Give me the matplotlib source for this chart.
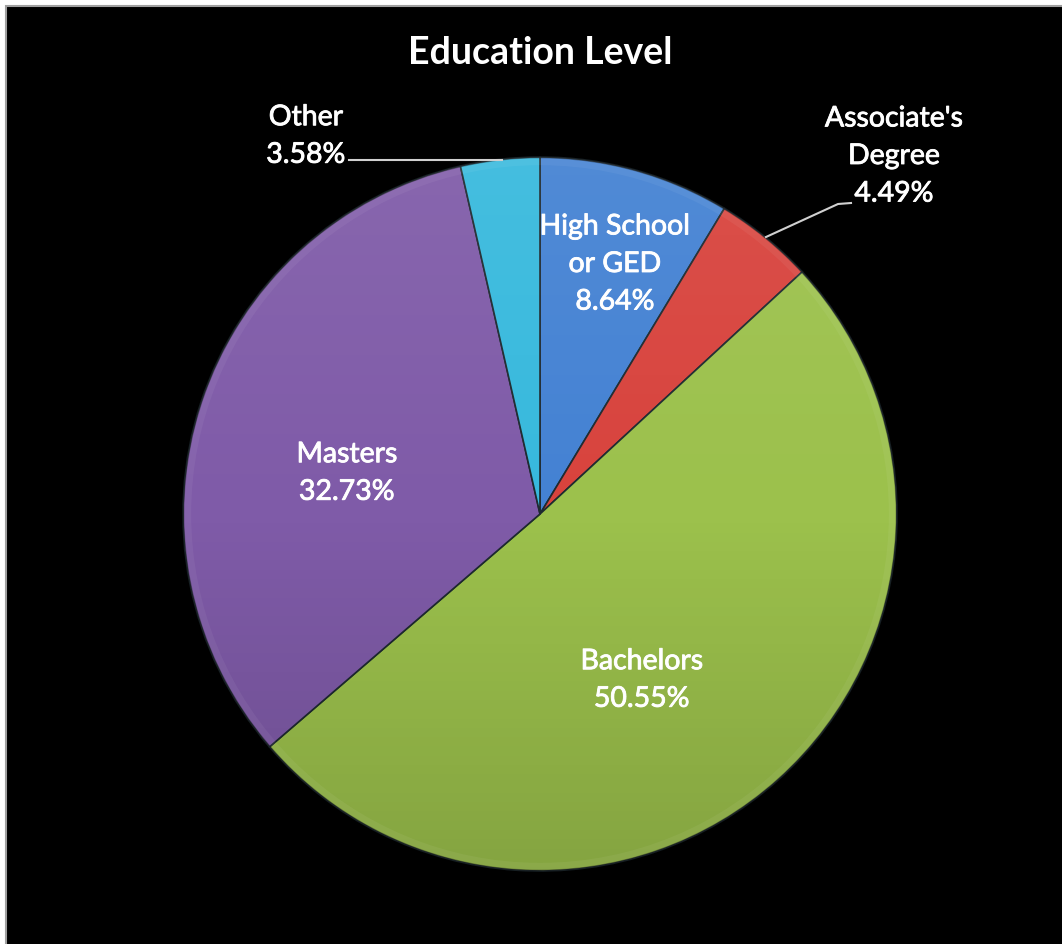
import numpy as np
import matplotlib
matplotlib.use("Agg")
import matplotlib.pyplot as plt
import matplotlib.patheffects as pe
from matplotlib.patches import Rectangle, Circle

# Education level shares (%), clockwise from 12 o'clock
categories = ["High School\nor GED", "Associate's\nDegree", "Bachelors", "Masters", "Other"]
shares = [8.64, 4.49, 50.55, 32.73, 3.58]
colors = ["#4482d3", "#d8433d", "#9cc14c", "#7f5ba8", "#37b9dd"]

W, H = 1062, 945
fig = plt.figure(figsize=(W / 100, H / 100), dpi=100, facecolor="white")
ax = fig.add_axes([0, 0, 1, 1])

def py(y):
    # image-style y (top down) -> data y
    return H - y

cx, cy, r = 540, py(515), 357
wedges, _ = ax.pie(shares, colors=colors, startangle=90, counterclock=False,
                   center=(cx, cy), radius=r, frame=True,
                   wedgeprops=dict(edgecolor="#1e2a30", linewidth=1.2, zorder=2))
ax.set_xlim(0, W)
ax.set_ylim(0, H)
ax.set_aspect("equal")
ax.axis("off")

# black chart area, grey frame only visible on top and left
ax.add_patch(Rectangle((6, -20), W + 20, py(7) + 20, facecolor="black",
                       edgecolor="#a0a0a0", lw=1.5, zorder=0))

# soft vertical shading across the pie: lighter on top, darker at bottom
grad = np.linspace(0, 1, 256)
shade = np.zeros((256, 1, 4))
top = grad < 0.5
shade[top, 0, :3] = 1.0
shade[:, 0, 3] = np.where(top, (0.5 - grad) * 0.14, (grad - 0.5) * 0.30)
img = ax.imshow(shade, extent=(cx - r, cx + r, cy - r, cy + r), origin="upper",
                aspect="auto", zorder=3, interpolation="bilinear")
img.set_clip_path(Circle((cx, cy), r, transform=ax.transData))
ax.set_xlim(0, W)
ax.set_ylim(0, H)

# subtle bevel rim
ax.add_patch(Circle((cx, cy), r - 4, fill=False, edgecolor="white", alpha=0.05, lw=6, zorder=4))
ax.add_patch(Circle((cx, cy), r, fill=False, edgecolor="black", alpha=0.3, lw=2, zorder=4))

font = "Lato"
thick = [pe.withStroke(linewidth=0.6, foreground="white")]
lab_kw = dict(color="white", fontsize=20.5, family=font, ha="center", va="center",
              linespacing=1.55, zorder=6, path_effects=thick)

ax.text(540, py(53), "Education Level", color="white", fontsize=27, family=font,
        fontweight="bold", ha="center", va="center")

# inside labels
inside_pos = {0: (615, 265), 2: (642, 681), 3: (347, 474)}
for i, (x, y) in inside_pos.items():
    ax.text(x, py(y), f"{categories[i]}\n{shares[i]:.2f}%", **lab_kw)

# outside labels with leader lines
ax.text(894, py(157), f"{categories[1]}\n{shares[1]:.2f}%", **lab_kw)
ax.plot([766, 838, 851], [py(238), py(205), py(204)], color="#d0d0d0", lw=1.5, zorder=5)

ax.text(306, py(137), f"{categories[4]}\n{shares[4]:.2f}%", **lab_kw)
ax.plot([349, 502], [py(161), py(161)], color="#d0d0d0", lw=1.5, zorder=5)

fig.savefig("out.png", dpi=100, facecolor="white")
